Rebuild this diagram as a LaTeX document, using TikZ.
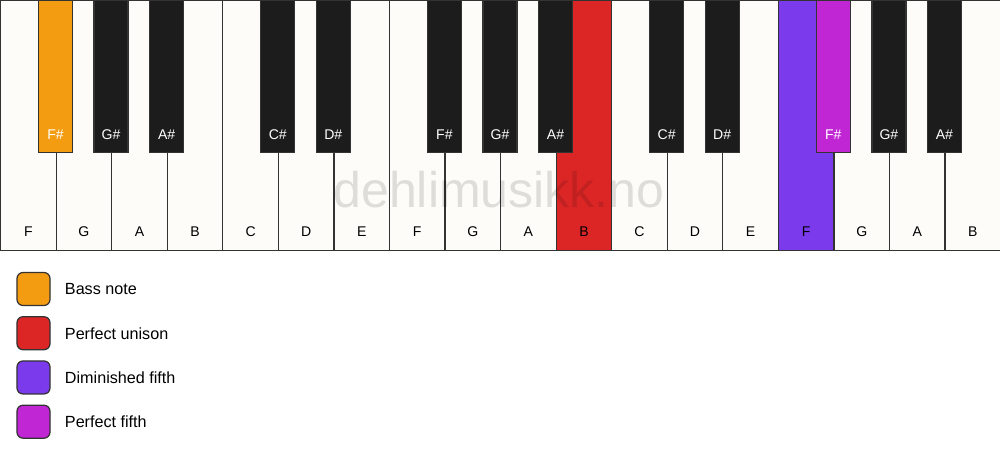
\documentclass[tikz,border=0pt]{standalone}
\usepackage{fontspec}
\setmainfont{Liberation Sans}
\usetikzlibrary{positioning}
\definecolor{keywhite}{HTML}{FDFCF9}
\definecolor{keyblack}{HTML}{1C1C1C}
\definecolor{keyline}{HTML}{333333}
\definecolor{bassnote}{HTML}{F39C12}
\definecolor{unison}{HTML}{DC2626}
\definecolor{dimfifth}{HTML}{7C3AED}
\definecolor{perffifth}{HTML}{C026D3}
\tikzstyle{whitekey} = [rectangle, draw=keyline, line width=0.7pt, minimum width=1.1111cm, minimum height=5cm, inner sep=0pt, anchor=north west]
\tikzstyle{blackkey} = [rectangle, draw=keyline, line width=0.7pt, minimum width=0.68cm, minimum height=3.04cm, inner sep=0pt, anchor=north]
\tikzstyle{keylabel} = [font=\fontsize{8}{8}\selectfont, inner sep=0pt]
\tikzstyle{legendbox} = [rectangle, rounded corners=0.12cm, draw=keyline, line width=0.7pt, minimum size=0.66cm, inner sep=0pt]
\tikzstyle{legendtext} = [font=\fontsize{9.2}{9.2}\selectfont, inner sep=0pt]

\begin{document}
\begin{tikzpicture}[node distance=0.2cm]
		\fill[white] (0,0) rectangle (20,-9.22);
		\useasboundingbox (0,0) rectangle (20,-9.22);
		
		% white keys
		\foreach \i/\note/\col/\txt in {0/F/keywhite/black, 1/G/keywhite/black, 2/A/keywhite/black, 3/B/keywhite/black, 4/C/keywhite/black, 5/D/keywhite/black, 6/E/keywhite/black, 7/F/keywhite/black, 8/G/keywhite/black, 9/A/keywhite/black, 10/B/unison/black, 11/C/keywhite/black, 12/D/keywhite/black, 13/E/keywhite/black, 14/F/dimfifth/black, 15/G/keywhite/black, 16/A/keywhite/black, 17/B/keywhite/black} {
			\node (w\i) [whitekey, fill=\col] at (\i*1.1111,0) {};
			\node (wl\i) [keylabel, text=\txt] at ([yshift=0.39cm]w\i.south) {\note};
		}
		
		\node (mark) [font=\fontsize{28.5}{28.5}\selectfont, text=black, text opacity=0.12] at (9.98,-3.8) {dehlimusikk.no};
		
		% black keys
		\foreach \k/\note/\col in {1/F/bassnote, 2/G/keyblack, 3/A/keyblack, 5/C/keyblack, 6/D/keyblack, 8/F/keyblack, 9/G/keyblack, 10/A/keyblack, 12/C/keyblack, 13/D/keyblack, 15/F/perffifth, 16/G/keyblack, 17/A/keyblack} {
			\node (b\k) [blackkey, fill=\col] at (\k*1.1111,0) {};
			\node (bl\k) [keylabel, text=white] at ([yshift=0.38cm]b\k.south) {\note\#};
		}
		
		% legend
		\node (bass) [legendbox, fill=bassnote] at (0.67,-5.78) {};
		\node (uni) [legendbox, fill=unison, below=of bass] {};
		\node (dim) [legendbox, fill=dimfifth, below=of uni] {};
		\node (fifth) [legendbox, fill=perffifth, below=of dim] {};
		
		\node (bass_txt) [legendtext, right=0.28cm of bass] {Bass note};
		\node (uni_txt) [legendtext, right=0.28cm of uni] {Perfect unison};
		\node (dim_txt) [legendtext, right=0.28cm of dim] {Diminished fifth};
		\node (fifth_txt) [legendtext, right=0.28cm of fifth] {Perfect fifth};
\end{tikzpicture}
\end{document}
